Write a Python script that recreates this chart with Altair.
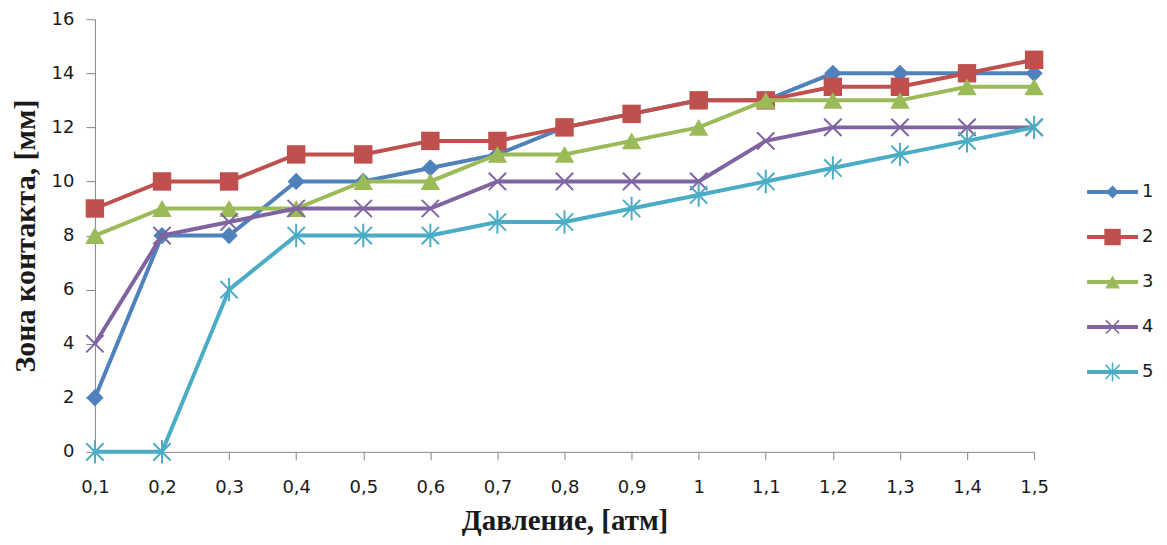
import altair as alt
import pandas as pd

# ---- data ----
pressure = ["0,1", "0,2", "0,3", "0,4", "0,5", "0,6", "0,7", "0,8",
            "0,9", "1", "1,1", "1,2", "1,3", "1,4", "1,5"]
s1 = [2, 8, 8, 10, 10, 10.5, 11, 12, 12.5, 13, 13, 14, 14, 14, 14]
s2 = [9, 10, 10, 11, 11, 11.5, 11.5, 12, 12.5, 13, 13, 13.5, 13.5, 14, 14.5]
s3 = [8, 9, 9, 9, 10, 10, 11, 11, 11.5, 12, 13, 13, 13, 13.5, 13.5]
s4 = [4, 8, 8.5, 9, 9, 9, 10, 10, 10, 10, 11.5, 12, 12, 12, 12]
s5 = [0, 0, 6, 8, 8, 8, 8.5, 8.5, 9, 9.5, 10, 10.5, 11, 11.5, 12]
series_names = ["1", "2", "3", "4", "5"]
series_values = [s1, s2, s3, s4, s5]
y_ticks = [0, 2, 4, 6, 8, 10, 12, 14, 16]

# ---- styles ----
colors = ["#4F81BD", "#C0504D", "#9BBB59", "#8064A2", "#4BACC6"]
X_PATH = "M-1,-1L1,1M-1,1L1,-1"
AST_PATH = "M-1,-1L1,1M-1,1L1,-1M0,-1.35L0,1.35"
shapes = ["diamond", "square", "triangle-up", X_PATH, AST_PATH]
filled = [True, True, True, False, False]
sizes = [300, 340, 380, 300, 300]
leg_sizes = [170, 270, 220, 170, 200]

LBL_FONT = "DejaVu Sans"
TTL_FONT = "Liberation Serif"
TXT = "#1a1a1a"

X = alt.X(
    "p:O",
    scale=alt.Scale(type="point", domain=pressure, padding=0),
    axis=alt.Axis(
        title="Давление, [атм]", labelAngle=0, tickSize=8, labelPadding=19,
        labelFont=LBL_FONT, labelFontSize=18, titleFont=TTL_FONT,
        titleFontSize=29, titleFontWeight="bold", titlePadding=10,
    ),
)
Y = alt.Y(
    "v:Q",
    scale=alt.Scale(domain=[0, 16], nice=False),
    axis=alt.Axis(
        title="Зона контакта, [мм]", values=y_ticks, tickSize=9,
        labelPadding=12, labelFont=LBL_FONT, labelFontSize=18,
        titleFont=TTL_FONT, titleFontSize=30, titleFontWeight="bold",
        titlePadding=11,
    ),
)

main_layers = []
for name, vals, col, shp, fil, sz in zip(series_names, series_values, colors,
                                          shapes, filled, sizes):
    df = pd.DataFrame({"p": pressure, "v": vals, "s": name})
    main_layers.append(
        alt.Chart(df).mark_line(color=col, strokeWidth=4).encode(x=X, y=Y)
    )
    main_layers.append(
        alt.Chart(df).mark_point(
            shape=shp, filled=fil, color=col, size=sz, opacity=1,
            strokeWidth=1 if fil else 2,
        ).encode(x=X, y=Y)
    )
main = alt.layer(*main_layers)

# ---- legend (drawn with its own scales) ----
LEG_X = alt.Scale(domain=[0, 1], range=[993, 1044])
LY = alt.Y("s:O", scale=alt.Scale(type="point", domain=series_names,
                                   range=[173, 353], padding=0), axis=None)
leg_layers = []
for name, col, shp, fil, sz in zip(series_names, colors, shapes, filled, leg_sizes):
    ldf = pd.DataFrame({"s": [name], "a": [0.0], "b": [1.0], "m": [0.5]})
    leg_layers.append(
        alt.Chart(ldf).mark_rule(color=col, strokeWidth=4).encode(
            x=alt.X("a:Q", scale=LEG_X, axis=None), x2="b:Q", y=LY)
    )
    leg_layers.append(
        alt.Chart(ldf).mark_point(
            shape=shp, filled=fil, color=col, size=sz, opacity=1,
            strokeWidth=1 if fil else 1.6,
        ).encode(x=alt.X("m:Q", scale=LEG_X, axis=None), y=LY)
    )
    leg_layers.append(
        alt.Chart(ldf).mark_text(
            align="left", baseline="middle", dx=4, fontSize=18, font=LBL_FONT,
            color=TXT,
        ).encode(x=alt.X("b:Q", scale=LEG_X, axis=None), y=LY, text="s:N")
    )
legend = alt.layer(*leg_layers)

chart = (
    alt.layer(main, legend)
    .resolve_scale(x="independent", y="independent")
    .properties(width=940, height=433,
                padding={"left": 2, "top": 2, "right": 5, "bottom": 2})
    .configure_view(stroke=None)
    .configure_axis(domainColor="#868686", tickColor="#868686", grid=False,
                    labelColor=TXT, titleColor=TXT,
                    domainWidth=1, tickWidth=1)
)

chart.save("out.html", embed_options={"renderer": "svg", "actions": False})
